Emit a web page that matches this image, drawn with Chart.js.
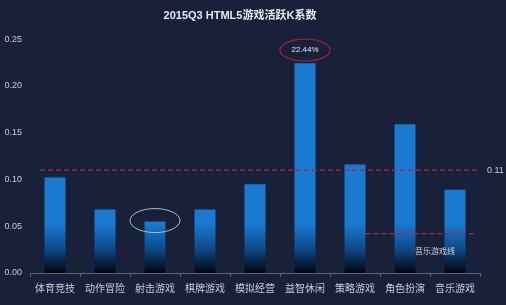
<!DOCTYPE html>
<html>
<head>
<meta charset="utf-8">
<script src="https://cdn.jsdelivr.net/npm/chart.js@4/dist/chart.umd.min.js"></script>
<style>
  html, body { margin: 0; padding: 0; background: #19213a; }
  #wrap { width: 506px; height: 305px; position: relative; }
</style>
</head>
<body>
<div id="wrap"><canvas id="kChart"></canvas></div>
<script>
// categorias e valores do coeficiente K
const categories = ['体育竞技', '动作冒险', '射击游戏', '棋牌游戏', '模拟经营', '益智休闲', '策略游戏', '角色扮演', '音乐游戏'];
const kValues = [0.102, 0.068, 0.055, 0.068, 0.095, 0.2244, 0.116, 0.159, 0.089];
const averageLine = 0.11;
const musicLine = 0.042;
const yTicks = [0, 0.05, 0.10, 0.15, 0.20, 0.25];

const labelColor = '#c9ccd4';
const fontFamily = '"Liberation Sans", "Noto Sans CJK SC", sans-serif';

// gradiente azul que escurece perto da base
function barGradient(context) {
    const chart = context.chart;
    const area = chart.chartArea;
    if (!area) return '#1a7ad2';
    const g = chart.ctx.createLinearGradient(0, area.top, 0, area.bottom);
    const fadeStart = (area.bottom - 50 - area.top) / (area.bottom - area.top);
    g.addColorStop(0, '#1a7ad2');
    g.addColorStop(fadeStart, '#1a7ad2');
    g.addColorStop(fadeStart + (1 - fadeStart) * 0.5, '#0e4c8c');
    g.addColorStop(1, '#02050c');
    return g;
}

// linhas tracejadas, elipses e textos extras
const extrasPlugin = {
    id: 'extras',
    afterDatasetsDraw(chart) {
        const { ctx, chartArea, scales } = chart;
        const x = scales.x, y = scales.y;
        ctx.save();

        // linha media 0.11
        const yAvg = y.getPixelForValue(averageLine);
        ctx.strokeStyle = '#b3233f';
        ctx.lineWidth = 1.2;
        ctx.setLineDash([5, 3]);
        ctx.beginPath();
        ctx.moveTo(chartArea.left + 10, yAvg);
        ctx.lineTo(chartArea.right - 2, yAvg);
        ctx.stroke();

        // linha curta do jogo de musica
        const yMus = y.getPixelForValue(musicLine);
        ctx.beginPath();
        ctx.moveTo(x.getPixelForValue(7) - 40, yMus);
        ctx.lineTo(x.getPixelForValue(8) + 20, yMus);
        ctx.stroke();
        ctx.setLineDash([]);

        ctx.fillStyle = labelColor;
        ctx.font = '9px ' + fontFamily;
        ctx.textAlign = 'left';
        ctx.textBaseline = 'middle';
        ctx.fillText('0.11', chartArea.right + 7, yAvg);

        ctx.fillStyle = '#d0d3da';
        ctx.font = '8px ' + fontFamily;
        ctx.fillText('音乐游戏线', x.getPixelForValue(7) + 10, yMus + 18);

        // rotulo 22.44% com elipse vermelha
        const xTop = x.getPixelForValue(5);
        const yTop = y.getPixelForValue(kValues[5]);
        ctx.fillStyle = '#e2e4ea';
        ctx.font = '8px ' + fontFamily;
        ctx.textAlign = 'center';
        ctx.fillText((kValues[5] * 100).toFixed(2) + '%', xTop, yTop - 13);
        ctx.strokeStyle = '#9a1f34';
        ctx.lineWidth = 1.3;
        ctx.beginPath();
        ctx.ellipse(xTop, yTop - 13, 25, 11, 0, 0, Math.PI * 2);
        ctx.stroke();

        // elipse cinza no tiro
        const xShot = x.getPixelForValue(2);
        const yShot = y.getPixelForValue(kValues[2]);
        ctx.strokeStyle = '#b9bcc4';
        ctx.lineWidth = 1;
        ctx.beginPath();
        ctx.ellipse(xShot, yShot - 1, 25, 12, 0, 0, Math.PI * 2);
        ctx.stroke();

        ctx.restore();
    }
};

new Chart(document.getElementById('kChart'), {
    type: 'bar',
    data: {
        labels: categories,
        datasets: [{
            data: kValues,
            backgroundColor: barGradient,
            borderWidth: 0,
            barPercentage: 0.42,
            categoryPercentage: 1
        }]
    },
    options: {
        responsive: true,
        maintainAspectRatio: false,
        animation: false,
        layout: {
            padding: { left: 0, right: 26, top: 0, bottom: 4 }
        },
        scales: {
            x: {
                grid: {
                    display: true,
                    drawOnChartArea: false,
                    color: '#5d6478',
                    tickLength: 4,
                    offset: true
                },
                border: { display: true, color: '#5d6478' },
                ticks: {
                    color: labelColor,
                    font: { size: 10, family: fontFamily },
                    padding: 6,
                    maxRotation: 0
                }
            },
            y: {
                min: 0,
                max: 0.25,
                afterBuildTicks: axis => { axis.ticks = yTicks.map(v => ({ value: v })); },
                afterFit: axis => { axis.width = 30; },
                grid: { display: false },
                border: { display: false },
                ticks: {
                    color: labelColor,
                    font: { size: 9, family: fontFamily },
                    padding: 0,
                    callback: v => v.toFixed(2)
                }
            }
        },
        plugins: {
            legend: { display: false },
            tooltip: { enabled: false },
            title: {
                display: true,
                text: '2015Q3 HTML5游戏活跃K系数',
                color: '#e6e8ee',
                font: { size: 11, weight: 'bold', family: fontFamily },
                padding: { top: 9, bottom: 17 }
            }
        }
    },
    plugins: [extrasPlugin]
});
</script>
</body>
</html>
